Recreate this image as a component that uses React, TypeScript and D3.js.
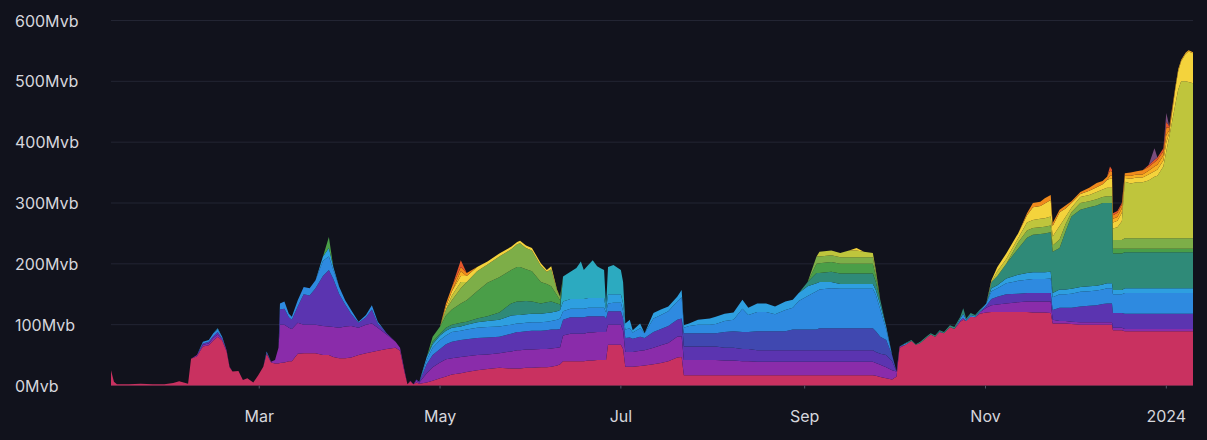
import { useMemo } from "react";
import * as d3 from "d3";

// Mempool size by fee-rate band, Jan 2023 - Jan 2024 (Mvb)
const dates = [
  "2023-01-10", "2023-01-11", "2023-01-12", "2023-01-16", "2023-01-20", "2023-01-24", "2023-01-28", "2023-01-31", "2023-02-02", "2023-02-05",
  "2023-02-06", "2023-02-08", "2023-02-10", "2023-02-12", "2023-02-13T12", "2023-02-15", "2023-02-16T12", "2023-02-18", "2023-02-19", "2023-02-20",
  "2023-02-22", "2023-02-23T12", "2023-02-25", "2023-02-27", "2023-02-28T16", "2023-03-02T09", "2023-03-03T12", "2023-03-05", "2023-03-06T08", "2023-03-07T12",
  "2023-03-08", "2023-03-09T12", "2023-03-11", "2023-03-12", "2023-03-14", "2023-03-16", "2023-03-18", "2023-03-20", "2023-03-22T12", "2023-03-24T12",
  "2023-03-26", "2023-03-28", "2023-03-30", "2023-04-01", "2023-04-03T12", "2023-04-06", "2023-04-08", "2023-04-10", "2023-04-13", "2023-04-16",
  "2023-04-17T12", "2023-04-19", "2023-04-20", "2023-04-21", "2023-04-22", "2023-04-23", "2023-04-24", "2023-04-26T12", "2023-04-28T12", "2023-05-01",
  "2023-05-03", "2023-05-05", "2023-05-08", "2023-05-10", "2023-05-13T12", "2023-05-17", "2023-05-21", "2023-05-25", "2023-05-27", "2023-05-28",
  "2023-05-30", "2023-06-01", "2023-06-04", "2023-06-06", "2023-06-07T12", "2023-06-09T12", "2023-06-10T12", "2023-06-11T12", "2023-06-14", "2023-06-16",
  "2023-06-17T12", "2023-06-18T12", "2023-06-20", "2023-06-21T12", "2023-06-23", "2023-06-24", "2023-06-25T08", "2023-06-26", "2023-06-26T16", "2023-06-28T12",
  "2023-07-01", "2023-07-01T18", "2023-07-02T12", "2023-07-04", "2023-07-05", "2023-07-07T12", "2023-07-09", "2023-07-12", "2023-07-14T12", "2023-07-17",
  "2023-07-20", "2023-07-21T12", "2023-07-22T06", "2023-07-24", "2023-07-27", "2023-07-31", "2023-08-02", "2023-08-05", "2023-08-08", "2023-08-11",
  "2023-08-13", "2023-08-16", "2023-08-19", "2023-08-22", "2023-08-25T12", "2023-08-28", "2023-08-30", "2023-09-02", "2023-09-05", "2023-09-06",
  "2023-09-10", "2023-09-13", "2023-09-16", "2023-09-18T12", "2023-09-21", "2023-09-24", "2023-09-25", "2023-09-26T12", "2023-09-28T12", "2023-09-30T12",
  "2023-10-02", "2023-10-03", "2023-10-05", "2023-10-07", "2023-10-08T12", "2023-10-10", "2023-10-12", "2023-10-13T12", "2023-10-15", "2023-10-16T12",
  "2023-10-18", "2023-10-20", "2023-10-21T12", "2023-10-23T12", "2023-10-24T12", "2023-10-25T12", "2023-10-27", "2023-10-28T12", "2023-10-30", "2023-11-01T06",
  "2023-11-03", "2023-11-05", "2023-11-08", "2023-11-12", "2023-11-15", "2023-11-17", "2023-11-19T12", "2023-11-21", "2023-11-23", "2023-11-23T16",
  "2023-11-26", "2023-11-28", "2023-11-30", "2023-12-03", "2023-12-06", "2023-12-08T12", "2023-12-10T12", "2023-12-12", "2023-12-13", "2023-12-13T16",
  "2023-12-14", "2023-12-15T12", "2023-12-17", "2023-12-18", "2023-12-20", "2023-12-22", "2023-12-24", "2023-12-26", "2023-12-28", "2023-12-29",
  "2023-12-31", "2024-01-01", "2024-01-02", "2024-01-04", "2024-01-05", "2024-01-06", "2024-01-07T12", "2024-01-08T12", "2024-01-10",
];

// bottom band up
const fee1 = [
  25,6,2,2,3,2,2,4,7,3,
  44,48,64,66,74,80,74,56,30,23,
  24,9,12,5,17,31,52,38,36,36,
  37,38,40,40,52,53,53,53,50,50,
  47,45,45,46,50,53,55,57,60,62,
  57,22,2,7,2,5,3,5,8,12,
  15,18,20,22,25,27,29,28,28,28,
  29,29,30,30,31,33,35,40,40,40,
  40,40,41,41,42,42,42,42,67,67,
  67,60,31,31,31,32,33,35,37,40,
  46,47,17,17,17,17,17,17,17,17,
  17,17,17,17,17,17,17,17,17,17,
  17,17,17,17,17,17,16,14,12,10,
  15,62,67,73,67,70,78,84,80,88,
  86,96,93,105,108,106,113,112,118,120,
  121,121,121,121,121,120,120,120,119,102,
  102,102,101,100,100,100,100,100,100,100,
  91,91,91,89,89,89,89,89,89,89,
  89,89,89,89,89,89,89,89,89,
];
const fee2 = [
  0,0,0,0,0,0,0,0,0,0,
  0,2,3,3,4,4,3,2,1,0,
  0,0,0,0,0,0,2,1,6,26,
  63,62,55,53,51,47,47,47,48,47,
  49,50,52,52,45,47,47,38,24,10,
  5,3,0,1,0,3,2,15,22,26,
  28,27,27,26,25,24,24,28,30,30,
  30,30,30,30,30,29,28,42,45,45,
  45,45,46,46,46,46,46,46,33,33,
  33,30,24,24,24,25,25,27,29,30,
  34,34,25,25,25,25,25,24,24,23,
  23,22,22,22,22,22,22,22,22,22,
  22,22,22,22,22,22,21,20,18,15,
  8,2,0,0,0,0,0,0,0,0,
  0,0,0,2,3,0,0,0,2,8,
  11,12,14,16,17,18,18,18,19,6,
  4,4,4,4,4,4,4,4,4,4,
  4,4,4,4,4,4,4,4,4,4,
  4,4,4,4,4,4,4,4,4,
];
const fee3 = [
  0,0,0,0,0,0,0,0,0,0,
  0,0,2,3,3,4,0,0,0,0,
  0,0,0,0,0,0,0,0,0,0,
  25,26,17,15,27,50,48,60,82,93,
  79,55,36,20,8,12,23,7,2,0,
  0,0,0,0,0,2,1,15,20,22,
  25,27,28,28,28,28,27,29,30,30,
  30,31,30,31,31,30,30,26,27,27,
  27,27,27,27,26,26,26,22,22,22,
  22,20,23,24,22,23,20,26,27,28,
  28,29,22,22,22,22,22,21,21,20,
  20,19,19,19,19,19,19,19,19,19,
  19,19,19,19,19,19,18,18,20,15,
  0,0,0,0,0,0,0,0,0,0,
  0,0,0,0,0,0,0,0,0,3,
  10,13,15,14,14,14,14,14,14,16,
  22,22,23,26,27,28,30,31,31,31,
  24,24,24,25,25,25,25,25,25,25,
  25,25,25,25,25,25,25,25,25,
];
const fee4 = [
  0,0,0,0,0,0,0,0,0,0,
  0,0,0,0,0,0,0,0,0,0,
  0,0,0,0,0,0,0,0,0,0,
  0,0,0,0,0,0,0,0,0,0,
  0,0,0,0,0,0,0,0,0,0,
  0,0,0,0,0,0,0,0,0,0,
  0,0,0,0,0,0,0,0,0,0,
  0,0,0,0,0,0,0,0,0,0,
  0,0,0,0,0,0,0,0,0,0,
  0,0,0,0,0,0,0,0,0,0,
  0,0,22,22,22,22,22,26,27,28,
  28,31,31,31,31,34,34,34,34,36,
  36,36,36,36,36,36,34,28,25,10,
  0,0,0,0,0,0,0,0,0,0,
  0,0,0,0,0,0,0,0,0,0,
  0,0,0,0,0,0,0,0,0,0,
  0,0,0,0,0,0,0,0,0,0,
  0,0,0,0,0,0,0,0,0,0,
  0,0,0,0,0,0,0,0,0,
];
const fee5 = [
  0,0,0,0,0,0,0,0,0,0,
  0,0,3,3,5,4,3,0,0,0,
  0,0,0,0,0,0,2,0,0,0,
  10,12,6,5,10,12,12,13,25,22,
  15,12,7,6,2,4,7,3,0,0,
  0,0,0,0,0,0,0,7,12,15,
  14,16,15,16,17,17,17,15,14,14,
  14,14,14,14,14,16,17,14,14,14,
  14,14,14,14,14,14,14,10,13,14,
  14,12,14,15,10,14,8,22,23,24,
  30,35,9,12,14,14,15,18,19,38,
  28,32,32,28,35,36,47,55,63,64,
  66,65,65,65,65,65,60,45,17,0,
  0,0,2,0,0,0,0,0,0,1,
  0,0,0,3,7,2,3,2,2,4,
  13,14,18,21,22,23,23,23,24,21,
  22,22,23,24,24,24,24,25,25,25,
  31,31,31,34,34,34,34,34,34,34,
  34,34,34,34,34,34,34,34,34,
];
const fee6 = [
  0,0,0,0,0,0,0,0,0,0,
  0,0,0,0,0,2,0,0,0,0,
  0,0,0,0,0,0,0,0,0,0,
  0,0,0,0,0,0,0,0,7,14,
  5,0,0,0,0,0,0,0,0,0,
  0,0,0,0,0,0,0,5,6,7,
  8,7,7,8,9,10,11,15,14,14,
  14,14,14,14,14,14,14,16,16,16,
  16,16,16,16,16,16,16,5,15,14,
  14,13,10,14,4,8,0,9,9,8,
  8,12,4,4,8,10,12,12,12,15,
  12,14,14,13,14,13,13,16,13,12,
  10,8,8,8,8,8,8,8,5,0,
  0,0,0,0,0,0,0,0,0,0,
  0,0,0,0,0,0,0,0,0,0,
  5,5,8,10,11,11,11,11,11,7,
  8,8,8,8,8,8,8,8,8,8,
  7,7,7,8,8,8,8,8,8,8,
  8,8,8,8,8,8,8,8,8,
];
const fee7 = [
  0,0,0,0,0,0,0,0,0,0,
  0,0,0,0,0,0,0,0,0,0,
  0,0,0,0,0,0,0,0,0,0,
  0,0,0,0,0,0,0,0,0,0,
  0,0,0,0,0,0,0,0,0,0,
  0,0,0,0,0,0,0,0,0,0,
  0,0,0,0,0,0,0,0,0,0,
  0,0,0,0,0,0,0,41,45,51,
  62,48,54,62,52,49,46,5,45,48,
  40,35,0,0,0,0,0,0,0,0,
  0,0,0,0,0,0,0,0,0,0,
  0,0,0,0,0,0,0,0,0,0,
  0,0,0,0,0,0,0,0,0,0,
  0,0,0,0,0,0,0,0,0,0,
  0,0,0,0,0,0,0,0,0,0,
  0,0,0,0,0,0,0,0,0,0,
  0,0,0,0,0,0,0,0,0,0,
  0,0,0,0,0,0,0,0,0,0,
  0,0,0,0,0,0,0,0,0,
];
const fee8 = [
  0,0,0,0,0,0,0,0,0,0,
  0,0,0,0,0,0,0,0,0,0,
  0,0,0,0,0,0,0,0,0,0,
  0,0,0,0,0,0,0,0,0,0,
  0,0,0,0,0,0,0,0,0,0,
  0,0,0,0,0,0,0,0,4,3,
  5,5,6,5,6,8,12,20,22,22,
  22,20,17,18,18,13,9,0,0,0,
  0,0,0,0,0,0,0,0,0,0,
  0,0,0,0,0,0,0,0,0,0,
  0,0,0,0,0,0,0,0,0,0,
  0,0,0,0,0,0,0,7,17,15,
  17,17,17,17,17,17,13,8,0,0,
  0,0,1,2,1,2,2,2,2,2,
  2,3,3,3,9,2,3,2,2,0,
  10,15,24,43,58,62,63,64,65,68,
  68,95,119,127,130,132,134,132,132,132,
  60,60,60,59,59,59,59,59,59,59,
  59,59,59,59,59,59,59,59,59,
];
const fee9 = [
  0,0,0,0,0,0,0,0,0,0,
  0,0,0,0,0,0,0,0,0,0,
  0,0,0,0,0,0,0,0,0,0,
  0,0,0,0,0,0,0,0,0,18,
  0,0,0,0,0,0,0,0,0,0,
  0,0,0,0,0,0,0,0,8,12,
  20,25,32,35,45,55,58,55,57,57,
  52,50,35,30,25,13,7,0,0,0,
  0,0,0,0,0,0,0,0,0,0,
  0,0,0,0,0,0,0,0,0,0,
  0,0,0,0,0,0,0,0,0,0,
  0,0,0,0,0,0,0,0,15,16,
  16,16,16,16,16,16,10,0,0,0,
  0,0,0,0,0,0,0,0,0,0,
  0,0,0,0,0,0,0,0,0,0,
  0,0,0,0,0,0,0,0,0,0,
  0,0,0,0,0,0,0,0,0,0,
  8,8,8,6,6,6,6,6,6,6,
  6,6,6,6,6,6,6,6,6,
];
const fee10 = [
  0,0,0,0,0,0,0,0,0,0,
  0,0,0,0,0,0,0,0,0,0,
  0,0,0,0,0,0,0,0,0,0,
  0,0,0,0,0,0,0,0,0,0,
  0,0,0,0,0,0,0,0,0,0,
  0,0,0,0,0,0,0,0,0,0,
  10,15,25,30,33,30,34,34,37,39,
  35,34,27,20,28,7,6,0,0,0,
  0,0,0,0,0,0,0,0,0,0,
  0,0,0,0,0,0,0,0,0,0,
  0,0,0,0,0,0,0,0,0,0,
  0,0,0,0,0,0,0,0,12,11,
  11,11,11,11,11,11,6,0,0,0,
  0,0,0,0,0,0,0,0,0,0,
  0,0,0,0,0,0,0,0,0,0,
  0,0,0,10,12,11,11,11,11,10,
  14,12,7,11,10,10,10,11,11,11,
  14,14,14,17,17,17,17,17,17,17,
  17,17,17,17,17,17,17,17,17,
];
const fee11 = [
  0,0,0,0,0,0,0,0,0,0,
  0,0,0,0,0,0,0,0,0,0,
  0,0,0,0,0,0,0,0,0,0,
  0,0,0,0,0,0,0,0,0,0,
  0,0,0,0,0,0,0,0,0,0,
  0,0,0,0,0,0,0,0,0,0,
  0,8,10,0,0,0,0,0,0,0,
  0,0,0,0,0,0,0,0,0,0,
  0,0,0,0,0,0,0,0,0,0,
  0,0,0,0,0,0,0,0,0,0,
  0,0,0,0,0,0,0,0,0,0,
  0,0,0,0,0,0,0,0,0,8,
  8,7,11,11,9,7,4,0,0,0,
  0,0,0,0,0,0,0,0,0,0,
  0,0,0,0,0,0,0,0,0,0,
  0,8,8,7,13,13,14,14,15,15,
  22,12,7,10,10,12,12,14,14,14,
  19,21,31,93,90,92,92,95,101,103,
  118,143,167,219,244,258,258,257,255,
];
const fee12 = [
  0,0,0,0,0,0,0,0,0,0,
  0,0,0,0,0,0,0,0,0,0,
  0,0,0,0,0,0,0,0,0,0,
  0,0,0,0,0,0,0,0,0,0,
  0,0,0,0,0,0,0,0,0,0,
  0,0,0,0,0,0,0,0,0,0,
  5,7,10,10,7,5,5,4,4,4,
  4,4,4,3,5,2,0,0,0,0,
  0,0,0,0,0,0,0,0,0,0,
  0,0,0,0,0,0,0,0,0,0,
  0,0,0,0,0,0,0,0,0,0,
  0,0,0,0,0,0,0,0,0,0,
  0,0,0,4,0,0,0,0,0,0,
  0,0,0,0,0,0,0,0,0,0,
  0,0,0,0,0,0,0,0,0,0,
  3,7,9,8,12,21,21,24,27,17,
  23,14,8,5,7,8,9,13,15,15,
  10,11,14,6,8,8,8,10,9,10,
  10,15,6,25,30,33,45,50,49,
];
const fee13 = [
  0,0,0,0,0,0,0,0,0,0,
  0,0,0,0,0,0,0,0,0,0,
  0,0,0,0,0,0,0,0,0,0,
  0,0,0,0,0,0,0,0,0,0,
  0,0,0,0,0,0,0,0,0,0,
  0,0,0,0,0,0,0,0,0,0,
  0,0,8,0,0,0,0,0,0,0,
  0,0,0,0,0,0,0,0,0,0,
  0,0,0,0,0,0,0,0,0,0,
  0,0,0,0,0,0,0,0,0,0,
  0,0,0,0,0,0,0,0,0,0,
  0,0,0,0,0,0,0,0,0,0,
  0,0,0,0,0,0,0,0,0,0,
  0,0,0,0,0,0,0,0,0,0,
  0,0,0,0,0,0,0,0,0,0,
  0,0,0,0,0,0,0,0,0,0,
  0,0,0,0,0,0,0,0,5,5,
  6,6,7,4,5,5,5,6,8,8,
  8,12,4,4,4,2,2,2,2,
];
const fee14 = [
  0,0,0,0,0,0,0,0,0,0,
  0,0,0,0,0,0,0,0,0,0,
  0,0,0,0,0,0,0,0,0,0,
  0,0,0,0,0,0,0,0,0,0,
  0,0,0,0,0,0,0,0,0,0,
  0,0,0,0,0,0,0,0,0,0,
  5,7,7,5,0,0,0,0,0,0,
  0,0,0,0,0,0,0,0,0,0,
  0,0,0,0,0,0,0,0,0,0,
  0,0,0,0,0,0,0,0,0,0,
  0,0,0,0,0,0,0,0,0,0,
  0,0,0,0,0,0,0,0,0,0,
  0,0,0,0,0,0,0,0,0,0,
  0,0,0,0,0,0,0,0,0,0,
  0,0,0,0,0,0,0,0,0,0,
  0,0,0,0,3,7,7,9,8,5,
  4,5,3,3,5,7,5,5,8,6,
  6,7,6,4,5,5,7,6,7,8,
  7,12,5,0,0,0,0,0,0,
];
const fee15 = [
  0,0,0,0,0,0,0,0,0,0,
  0,0,0,0,0,0,0,0,0,0,
  0,0,0,0,0,0,0,0,0,0,
  0,0,0,0,0,0,0,0,0,0,
  0,0,0,0,0,0,0,0,0,0,
  0,0,0,0,0,0,0,0,0,0,
  0,0,11,0,0,0,0,0,0,0,
  0,0,0,0,0,0,0,0,0,0,
  0,0,0,0,0,0,0,0,0,0,
  0,0,0,0,0,0,0,0,0,0,
  0,0,0,0,0,0,0,0,0,0,
  0,0,0,0,0,0,0,0,0,0,
  0,0,0,0,0,0,0,0,0,0,
  0,0,0,0,0,0,0,0,0,0,
  0,0,0,0,0,0,0,0,0,0,
  0,0,0,0,0,0,0,0,0,0,
  0,0,0,0,0,0,0,0,7,4,
  3,3,3,0,0,0,0,3,4,4,
  5,10,2,0,0,0,0,0,0,
];
const fee16 = [
  0,0,0,0,0,0,0,0,0,0,
  0,0,0,0,0,0,0,0,0,0,
  0,0,0,0,0,0,0,0,0,0,
  0,0,0,0,0,0,0,0,0,0,
  0,0,0,0,0,0,0,0,0,0,
  0,0,0,0,0,0,0,0,0,0,
  0,0,0,0,0,0,0,0,0,0,
  0,0,0,0,0,0,0,0,0,0,
  0,0,0,0,0,0,0,0,0,0,
  0,0,0,0,0,0,0,0,0,0,
  0,0,0,0,0,0,0,0,0,0,
  0,0,0,0,0,0,0,0,0,0,
  0,0,0,0,0,0,0,0,0,0,
  0,0,0,0,0,0,0,0,0,0,
  0,0,0,0,0,0,0,0,0,0,
  0,0,0,0,0,0,0,0,0,0,
  0,0,0,0,0,0,0,0,0,0,
  0,0,0,0,0,0,0,0,19,0,
  0,14,0,0,0,0,0,0,0,
];

const seriesValues = [fee1, fee2, fee3, fee4, fee5, fee6, fee7, fee8, fee9, fee10, fee11, fee12, fee13, fee14, fee15, fee16];
const seriesColors = [
  "#C93160", "#8A2CAA", "#5B34B0", "#4048B0", "#2E8AE0", "#2E9FE0", "#2CAAC0", "#2F8A78",
  "#4A9E48", "#7DAE48", "#BFC53C", "#F4D33C", "#F7B023", "#F08A1C", "#E6562B", "#7A4C7C",
];

const yTicks = [0, 100, 200, 300, 400, 500, 600];
const xTickDates = ["2023-03-01", "2023-05-01", "2023-07-01", "2023-09-01", "2023-11-01", "2024-01-01"];
const xTickLabels = ["Mar", "May", "Jul", "Sep", "Nov", "2024"];
const domainDates = ["2023-01-10", "2024-01-10"];

const W = 1207;
const H = 440;
const margin = { top: 20.5, right: 14, bottom: 54.5, left: 111 };

const parseDay = d3.utcParse("%Y-%m-%d");
const parseHour = d3.utcParse("%Y-%m-%dT%H");
const parse = (s: string) => (s.length > 10 ? parseHour(s) : parseDay(s)) as Date;

export default function App() {
  const innerW = W - margin.left - margin.right;
  const innerH = H - margin.top - margin.bottom;

  const x = useMemo(
    () => d3.scaleUtc().domain(domainDates.map(parse)).range([0, innerW]),
    [innerW]
  );
  const y = useMemo(() => d3.scaleLinear().domain([0, 600]).range([innerH, 0]), [innerH]);

  const keys = seriesValues.map((_, i) => `s${i}`);

  const layers = useMemo(() => {
    const rows = dates.map((d, i) => {
      const row: Record<string, any> = { date: parse(d) };
      seriesValues.forEach((s, k) => (row[`s${k}`] = s[i]));
      return row;
    });
    return d3.stack<any>().keys(keys)(rows);
  }, []);

  const area = d3
    .area<any>()
    .x((d) => x(d.data.date))
    .y0((d) => y(d[0]))
    .y1((d) => y(d[1]));

  const font = "Inter, 'Noto Sans', sans-serif";

  return (
    <svg width={W} height={H} style={{ position: "absolute", left: 0, top: 0, display: "block" }}>
      <rect x={0} y={0} width={W} height={H} fill="#11121c" />
      <g transform={`translate(${margin.left},${margin.top})`}>
        {/* grid */}
        {yTicks.map((v) => (
          <line key={`g-${v}`} x1={0} x2={innerW} y1={y(v)} y2={y(v)} stroke="#232533" strokeWidth={1} />
        ))}

        {/* stacked bands */}
        {layers.map((layer, i) => (
          <path key={layer.key} d={area(layer) ?? ""} fill={seriesColors[i]} />
        ))}

        {/* x ticks */}
        {xTickDates.map((d, i) => {
          const px = x(parse(d));
          return (
            <g key={`xt-${i}`} transform={`translate(${px},${innerH})`}>
              <line y1={0} y2={3} stroke="#55586a" />
              <text
                y={36}
                textAnchor="middle"
                fill="#d6d6dc"
                style={{ fontFamily: font, fontSize: 16 }}
              >
                {xTickLabels[i]}
              </text>
            </g>
          );
        })}
      </g>

      {/* y labels */}
      {yTicks.map((v) => (
        <text
          key={`yl-${v}`}
          x={15}
          y={margin.top + y(v)}
          dominantBaseline="central"
          fill="#d6d6dc"
          style={{ fontFamily: font, fontSize: 16 }}
        >
          {`${v}Mvb`}
        </text>
      ))}
    </svg>
  );
}
